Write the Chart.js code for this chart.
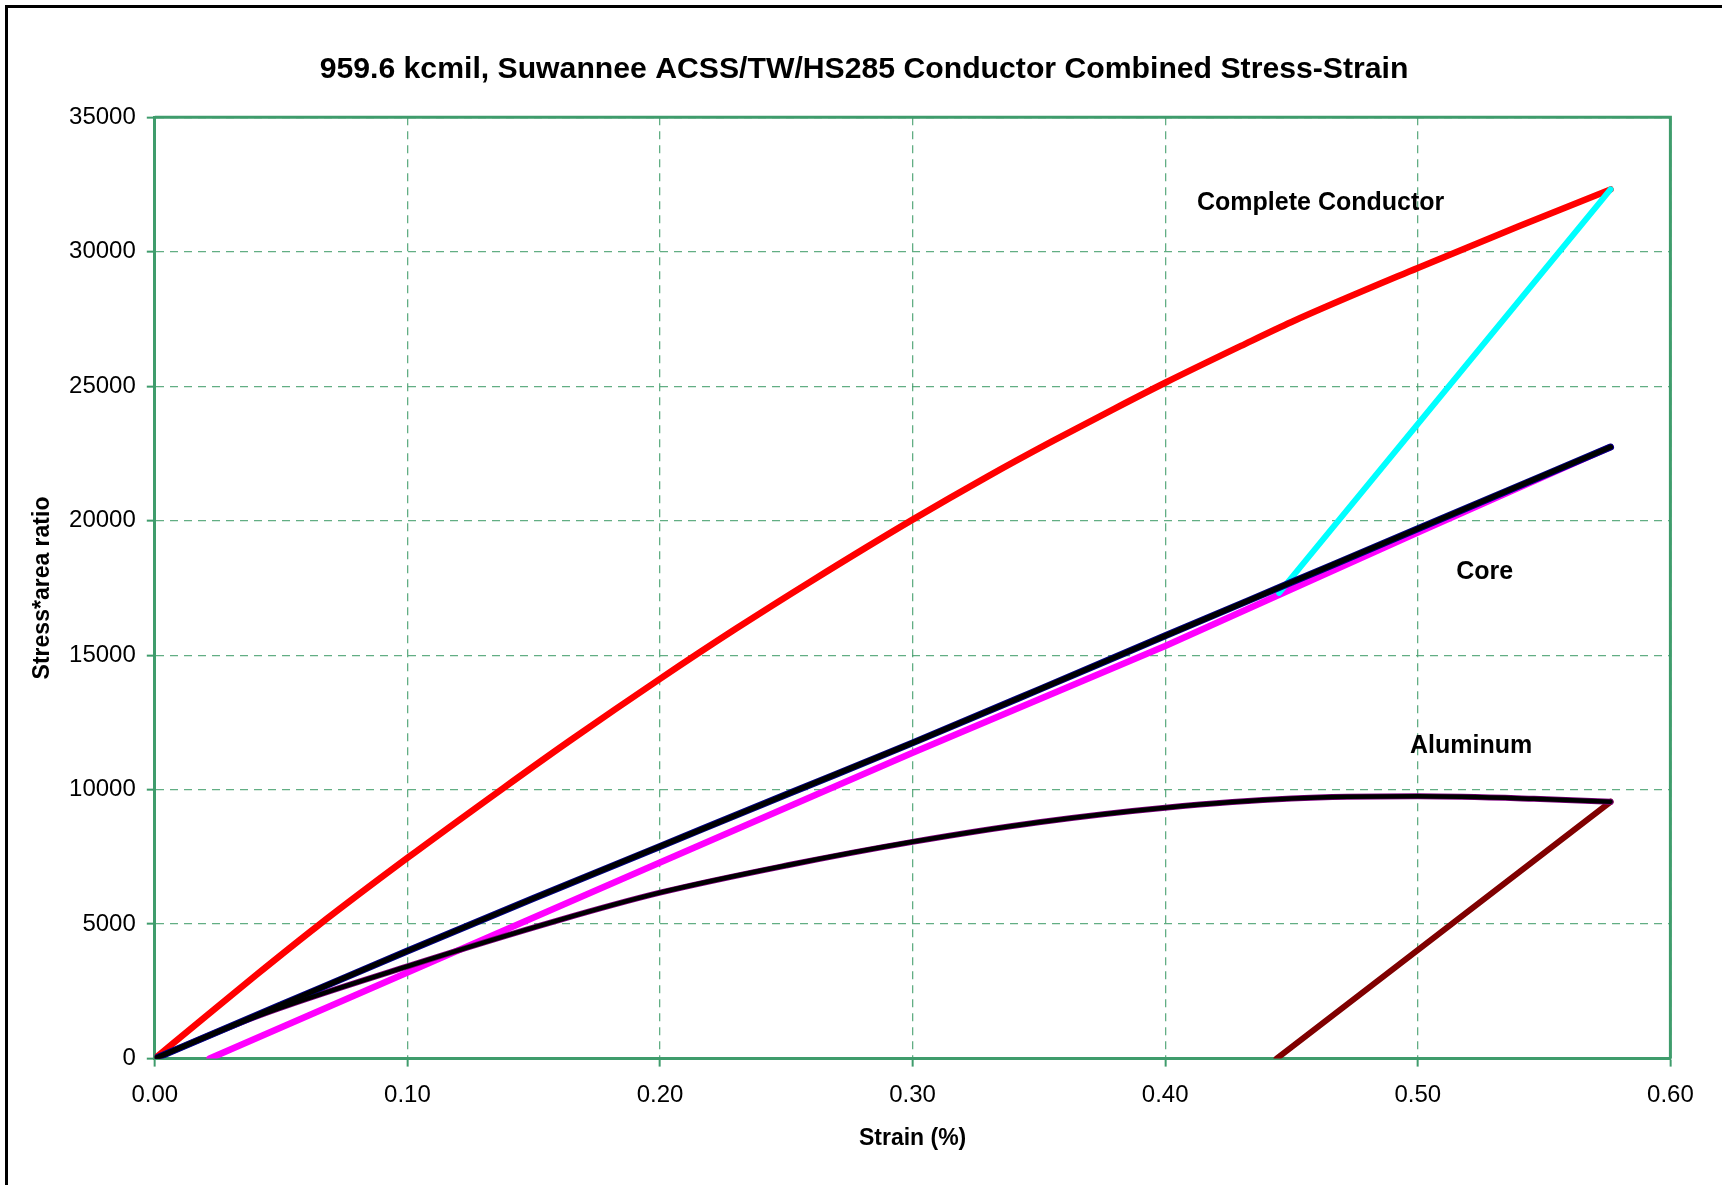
<!DOCTYPE html>
<html>
<head>
<meta charset="utf-8">
<title>959.6 kcmil, Suwannee ACSS/TW/HS285 Conductor Combined Stress-Strain</title>
<script src="https://cdn.jsdelivr.net/npm/chart.js@4.4.0/dist/chart.umd.min.js"></script>
<style>
  html, body { margin: 0; padding: 0; background: #fff; }
  #wrap { position: relative; width: 1722px; height: 1185px; overflow: hidden; }
  #frame { position: absolute; left: 5px; top: 5px; width: 1800px; height: 1300px;
           border-left: 3px solid #000; border-top: 3px solid #000; pointer-events: none; }
  canvas { display: block; }
</style>
</head>
<body>
<div id="wrap">
  <canvas id="myChart" width="1722" height="1185"></canvas>
  <div id="frame"></div>
</div>
<script>
// axis ticks
const strainTicks = [0, 0.1, 0.2, 0.3, 0.4, 0.5, 0.6];
const stressTicks = [0, 5000, 10000, 15000, 20000, 25000, 30000, 35000];

// complete conductor, initial loading (red)
const conductorStrain = [0, 0.02, 0.04, 0.064, 0.10, 0.138, 0.164, 0.20, 0.23, 0.26, 0.30, 0.33, 0.355, 0.38, 0.40, 0.43, 0.45, 0.50, 0.54, 0.5763];
const conductorStress = [0, 1560, 3100, 4900, 7460, 10060, 11800, 14120, 15980, 17760, 20040, 21660, 22940, 24170, 25130, 26500, 27390, 29400, 30950, 32320];

// complete conductor, unloading (cyan)
const conductorUnloadStrain = [0.5763, 0.4451];
const conductorUnloadStress = [32320, 17320];

// core, initial (black over navy)
const coreStrain = [0, 0.05, 0.10, 0.15, 0.20, 0.25, 0.30, 0.35, 0.40, 0.45, 0.50, 0.5763];
const coreStress = [0, 2000, 4000, 5960, 7890, 9820, 11740, 13720, 15720, 17710, 19700, 22740];

// core, final (magenta)
const coreFinalStrain = [0.0217, 0.10, 0.20, 0.30, 0.40, 0.50, 0.5763];
const coreFinalStress = [0, 3200, 7290, 11370, 15340, 19560, 22740];

// aluminum, initial (black over purple)
const aluminumStrain = [0, 0.04, 0.10, 0.16, 0.20, 0.25, 0.30, 0.35, 0.40, 0.45, 0.50, 0.546, 0.5763];
const aluminumStress = [0, 1560, 3430, 5150, 6170, 7180, 8060, 8790, 9330, 9670, 9752, 9660, 9550];

// aluminum, unloading (dark red)
const aluminumUnloadStrain = [0.5763, 0.4441];
const aluminumUnloadStress = [9550, 0];

// curve labels
const curveLabels = ['Complete Conductor', 'Core', 'Aluminum'];
const curveLabelStrain = [0.4126, 0.5152, 0.4969];
const curveLabelStress = [31794, 18089, 11637];

const green = '#3f9c6c';
const gridGreen = 'rgba(70,160,110,0.85)';

function pts(xs, ys) {
  return xs.map((x, i) => ({ x: x, y: ys[i] }));
}

function line(data, color, width, curved) {
  return {
    data: data,
    borderColor: color,
    backgroundColor: color,
    borderWidth: width,
    showLine: true,
    pointRadius: 0,
    fill: false,
    borderCapStyle: 'round',
    borderJoinStyle: 'round',
    cubicInterpolationMode: curved ? 'monotone' : 'default',
    tension: 0
  };
}

Chart.defaults.font.family = '"Liberation Sans", Arial, Helvetica, sans-serif';
Chart.defaults.color = '#000';

const plotFrame = {
  id: 'plotFrame',
  beforeDatasetsDraw(chart) {
    const { ctx, chartArea: a } = chart;
    ctx.save();
    ctx.strokeStyle = green;
    ctx.lineWidth = 3;
    ctx.beginPath();
    ctx.moveTo(a.left, a.top);
    ctx.lineTo(a.right, a.top);
    ctx.lineTo(a.right, a.bottom);
    ctx.stroke();
    ctx.restore();
  }
};

const curveLabelPlugin = {
  id: 'curveLabels',
  afterDatasetsDraw(chart) {
    const { ctx, scales: { x, y } } = chart;
    ctx.save();
    ctx.font = 'bold 25px "Liberation Sans", Arial, sans-serif';
    ctx.fillStyle = '#000';
    ctx.textAlign = 'left';
    ctx.textBaseline = 'middle';
    curveLabels.forEach((t, i) => {
      ctx.fillText(t, x.getPixelForValue(curveLabelStrain[i]), y.getPixelForValue(curveLabelStress[i]));
    });
    ctx.restore();
  }
};

const ctx = document.getElementById('myChart').getContext('2d');
const myChart = new Chart(ctx, {
  type: 'scatter',
  data: {
    datasets: [
      line(pts(coreStrain, coreStress), '#000000', 5, true),
      line(pts(aluminumStrain, aluminumStress), '#000000', 4.5, true),
      line(pts(coreStrain, coreStress), '#000080', 7, true),
      line(pts(aluminumStrain, aluminumStress), '#800080', 6, true),
      line(pts(conductorUnloadStrain, conductorUnloadStress), '#00ffff', 6, false),
      line(pts(coreFinalStrain, coreFinalStress), '#ff00ff', 6.5, false),
      line(pts(conductorStrain, conductorStress), '#ff0000', 6.5, true),
      line(pts(aluminumUnloadStrain, aluminumUnloadStress), '#800000', 6, false)
    ]
  },
  options: {
    responsive: false,
    animation: false,
    devicePixelRatio: 1,
    layout: { padding: { left: 57.6, right: 51.6, top: 13, bottom: 0 } },
    plugins: {
      legend: { display: false },
      tooltip: { enabled: false },
      title: {
        display: true,
        text: '959.6 kcmil, Suwannee ACSS/TW/HS285 Conductor Combined Stress-Strain',
        color: '#000',
        font: { size: 30.2, weight: 'bold' },
        padding: { top: 38.2, bottom: 29.9 }
      }
    },
    scales: {
      x: {
        type: 'linear',
        min: 0,
        max: 0.6,
        afterBuildTicks: s => { s.ticks = strainTicks.map(v => ({ value: v })); },
        afterFit: s => { s.height = 126.4; },
        ticks: {
          callback: v => Number(v).toFixed(2),
          font: { size: 24 },
          color: '#000',
          padding: 14,
          maxRotation: 0,
          autoSkip: false
        },
        grid: { color: gridGreen, lineWidth: 1.3, tickLength: 8, tickColor: green, tickWidth: 2 },
        border: { color: green, width: 3, dash: [8, 6] },
        title: {
          display: true,
          text: 'Strain (%)',
          color: '#000',
          font: { size: 23, weight: 'bold' },
          padding: { top: 0, bottom: 33 }
        }
      },
      y: {
        type: 'linear',
        min: 0,
        max: 35000,
        afterBuildTicks: s => { s.ticks = stressTicks.map(v => ({ value: v })); },
        afterFit: s => { s.width = 97.2; },
        ticks: {
          callback: v => String(v),
          font: { size: 24 },
          color: '#000',
          padding: 11,
          autoSkip: false
        },
        grid: { color: gridGreen, lineWidth: 1.3, tickLength: 8, tickColor: green, tickWidth: 2 },
        border: { color: green, width: 3, dash: [8, 6] },
        title: {
          display: true,
          text: 'Stress*area ratio',
          color: '#000',
          font: { size: 23, weight: 'bold' },
          padding: { top: -29, bottom: 0 }
        }
      }
    }
  },
  plugins: [plotFrame, curveLabelPlugin]
});
</script>
</body>
</html>
